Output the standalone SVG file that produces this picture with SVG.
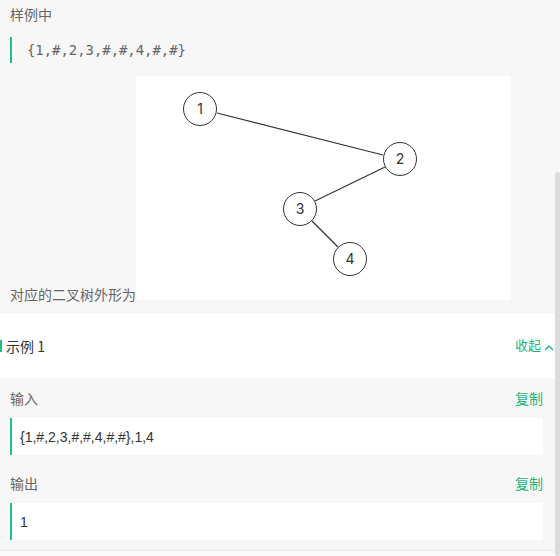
<svg xmlns="http://www.w3.org/2000/svg" width="560" height="556" viewBox="0 0 560 556">
<style>
.cn{font-family:"Noto Sans CJK SC","Noto Sans",sans-serif;font-size:14px;fill:#666}
.green{font-family:"Noto Sans CJK SC","Noto Sans",sans-serif;font-size:14px;fill:#1db57a}
.mono{font-family:"DejaVu Sans Mono",monospace;font-size:13.9px;fill:#666}
.val{font-family:"Liberation Sans",Arial,sans-serif;font-size:14px;fill:#333}
.node circle{fill:#fff;stroke:#333;stroke-width:1}
.node text{font-family:"Inter","Liberation Sans",sans-serif;font-size:14px;fill:#333;text-anchor:middle}
.edge{stroke:#333;stroke-width:1.2;fill:none}
.bar{fill:#1dc386}
</style>
<rect x="0" y="0" width="560" height="556" fill="#f7f7f7"/>
<text class="cn" x="10" y="20">样例中</text>
<rect class="bar" x="10" y="37" width="2" height="26"/>
<text class="mono" x="27" y="55">{1,#,2,3,#,#,4,#,#}</text>
<rect x="136" y="76" width="375" height="224" fill="#fff"/>
<g id="connectors">
<line class="edge" x1="217" y1="113" x2="383" y2="155"/>
<line class="edge" x1="385" y1="167" x2="315" y2="201"/>
<line class="edge" x1="312" y1="221" x2="338" y2="247"/>
</g>
<g id="n1" class="node"><circle cx="200" cy="109" r="16.5"/><text x="200" y="114">1</text></g>
<g id="n2" class="node"><circle cx="400" cy="159" r="16.5"/><text x="400" y="164">2</text></g>
<g id="n3" class="node"><circle cx="300" cy="209" r="16.5"/><text x="300" y="214">3</text></g>
<g id="n4" class="node"><circle cx="350" cy="259" r="16.5"/><text x="350" y="264">4</text></g>
<text class="cn" x="10" y="300">对应的二叉树外形为</text>
<rect x="0" y="314" width="555" height="64" fill="#fff"/>
<rect class="bar" x="0" y="340" width="2" height="12"/>
<text class="cn" x="6" y="352" style="fill:#333">示例 1</text>
<text class="green" x="515" y="350" style="font-size:13px">收起</text>
<path d="M545 350 L549 346 L553 350" fill="none" stroke="#1db57a" stroke-width="1.3"/>
<text class="cn" x="10" y="404">输入</text>
<text class="green" x="515" y="404">复制</text>
<rect x="10" y="418" width="533" height="37" fill="#fff"/>
<rect class="bar" x="10" y="418" width="2" height="37"/>
<text class="val" x="20" y="442">{1,#,2,3,#,#,4,#,#},1,4</text>
<text class="cn" x="10" y="489">输出</text>
<text class="green" x="515" y="489">复制</text>
<rect x="10" y="503" width="533" height="37" fill="#fff"/>
<rect class="bar" x="10" y="503" width="2" height="37"/>
<text class="val" x="20" y="527">1</text>
<rect x="0" y="550" width="555" height="1" fill="#e8e8e8"/>
<rect x="0" y="551" width="555" height="5" fill="#fafafa"/>
<rect x="555" y="172" width="5" height="384" rx="2" fill="#dcdcdc"/>
</svg>
